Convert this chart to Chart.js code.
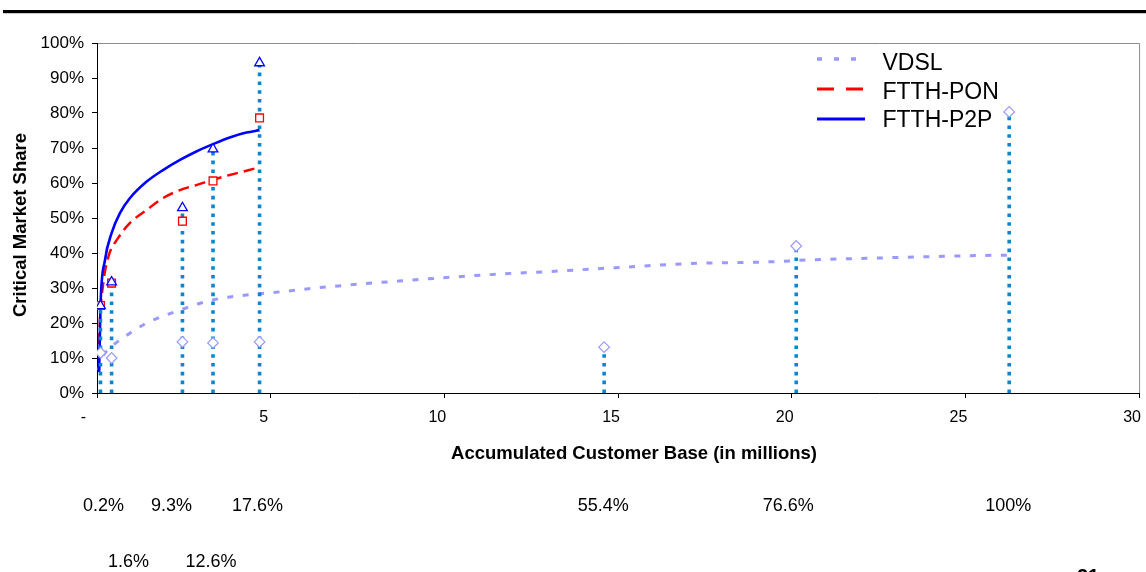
<!DOCTYPE html>
<html><head><meta charset="utf-8">
<script src="https://cdn.jsdelivr.net/npm/chart.js@4.4.0/dist/chart.umd.min.js"></script>
<style>html,body{margin:0;padding:0;background:#fff}canvas{display:block}</style>
</head><body>
<canvas id="c" width="1146" height="572"></canvas>
<script>
// ---- data ----
const customerBase = [0.1, 0.42, 2.46, 3.34, 4.68, 14.6, 20.13, 26.26];      // millions
const baseShareLabels = ['0.2%', '1.6%', '9.3%', '12.6%', '17.6%', '55.4%', '76.6%', '100%'];
const vdslShare = [11.5, 10, 14.6, 14.3, 14.6, 13.1, 42, 80.3];
const ponShare  = [25, 31.4, 49.1, 60.6, 78.6];
const p2pShare  = [24.9, 31.7, 52.9, 69.7, 94.3];

const vdslTrendX = [0.05, 0.1, 0.2, 0.47, 0.95, 1.43, 2.39, 3.34, 4.3, 5.26, 6.5, 8.7, 11.6, 13, 14.93, 16.85, 19.7, 20.2, 22.6, 25, 26.24];
const vdslTrendY = [6.5, 9, 11, 13.7, 17.1, 20, 23.7, 26.6, 28, 28.9, 30.2, 32, 34, 34.7, 35.8, 36.9, 37.6, 37.9, 38.6, 39.2, 39.4];
const ponTrendX = [0.06, 0.08, 0.18, 0.33, 0.61, 0.95, 1.43, 1.9, 2.48, 2.86, 3.34, 3.82, 4.3, 4.68];
const ponTrendY = [14, 20, 31.4, 39, 44.3, 48.6, 52.3, 55.7, 58.3, 59.4, 60.9, 62.3, 63.5, 64.5];
const p2pTrendX = [0.06, 0.08, 0.1, 0.23, 0.42, 0.66, 0.95, 1.43, 1.9, 2.39, 2.86, 3.34, 3.82, 4.3, 4.68];
const p2pTrendY = [6, 15, 24.7, 38, 45.7, 51.4, 55.7, 60.4, 63.7, 66.6, 69, 71.1, 73, 74.4, 75.1];

const xTicks = [0, 5, 10, 15, 20, 25, 30];
const yTicks = [0, 10, 20, 30, 40, 50, 60, 70, 80, 90, 100];
const seriesNames = ['VDSL', 'FTTH-PON', 'FTTH-P2P'];

// ---- derived structures ----
const pts = (xs, ys) => xs.map((x, i) => ({x, y: ys[i]}));
const stemData = [];
customerBase.forEach((x, i) => {
  const top = Math.max(vdslShare[i], ponShare[i] ?? 0, p2pShare[i] ?? 0);
  stemData.push({x, y: 0}, {x, y: top}, {x, y: null});
});

const FONT = "'Liberation Sans', Arial, sans-serif";
const colors = {vdsl: '#9999ff', pon: '#ff0000', p2p: '#0000ff', stem: '#0a86cf'};

// layout of the share labels under the chart (row and pixel nudge)
const shareLayout = {row: [0, 1, 0, 1, 0, 0, 0, 0], nudge: [3, 17, -11, -2, -2, -1, -8, -1]};

const decor = {
  id: 'decor',
  afterDraw(chart) {
    const {ctx, chartArea: a, scales: {x}} = chart;
    ctx.save();
    // top rule
    ctx.fillStyle = '#000'; ctx.fillRect(3, 10, 1143, 3);
    ctx.fillStyle = '#c8c8c8'; ctx.fillRect(3, 13, 1143, 1);
    // plot frame (top / right)
    ctx.strokeStyle = '#8c8c8c'; ctx.lineWidth = 1;
    ctx.beginPath();
    ctx.moveTo(a.left + 1, a.top + 0.5); ctx.lineTo(a.right + 0.5, a.top + 0.5); ctx.lineTo(a.right + 0.5, a.bottom);
    ctx.stroke();
    // axis titles
    ctx.fillStyle = '#000';
    ctx.font = 'bold 18.5px ' + FONT;
    ctx.textAlign = 'center'; ctx.textBaseline = 'alphabetic';
    ctx.fillText('Accumulated Customer Base (in millions)', 634, 458.5);
    ctx.save(); ctx.translate(26, 225); ctx.rotate(-Math.PI / 2);
    ctx.fillText('Critical Market Share', 0, 0); ctx.restore();
    // legend
    const leg = [
      {c: colors.vdsl, dash: [5, 12], w: 3.5},
      {c: colors.pon, dash: [17, 12], w: 3},
      {c: colors.p2p, dash: [], w: 3}
    ];
    leg.forEach((l, i) => {
      const ly = 59 + i * 30;
      ctx.strokeStyle = l.c; ctx.lineWidth = l.w; ctx.setLineDash(l.dash);
      ctx.beginPath(); ctx.moveTo(817, ly); ctx.lineTo(865, ly); ctx.stroke();
      ctx.setLineDash([]);
      ctx.fillStyle = '#000'; ctx.font = '23px ' + FONT; ctx.textAlign = 'left';
      ctx.fillText(seriesNames[i], 882.5, 70 + i * 28.5);
    });
    // share labels under the chart
    ctx.font = '18px ' + FONT; ctx.textAlign = 'center'; ctx.fillStyle = '#000';
    baseShareLabels.forEach((t, i) => {
      const px = x.getPixelForValue(customerBase[i]) + shareLayout.nudge[i];
      ctx.fillText(t, px, shareLayout.row[i] ? 566.5 : 510.5);
    });
    // cropped page number at the bottom edge
    ctx.font = 'bold 20px ' + FONT; ctx.textAlign = 'left'; ctx.textBaseline = 'top';
    ctx.fillText('21', 1077, 567);
    ctx.restore();
  }
};

new Chart(document.getElementById('c'), {
  type: 'line',
  data: {
    datasets: [
      {label: 'VDSL', data: pts(vdslTrendX, vdslTrendY), borderColor: colors.vdsl, borderWidth: 3,
       borderDash: [6, 9.5], pointRadius: 0, cubicInterpolationMode: 'monotone', order: 6},
      {label: 'FTTH-PON', data: pts(ponTrendX, ponTrendY), borderColor: colors.pon, borderWidth: 2.5,
       borderDash: [11, 6], pointRadius: 0, cubicInterpolationMode: 'monotone', order: 5},
      {label: 'FTTH-P2P', data: pts(p2pTrendX, p2pTrendY), borderColor: colors.p2p, borderWidth: 2.6,
       pointRadius: 0, cubicInterpolationMode: 'monotone', order: 4},
      {label: 'stems', data: stemData, borderColor: colors.stem, borderWidth: 3.6, borderDash: [3.6, 5.2],
       pointRadius: 0, spanGaps: false, tension: 0, order: 3},
      {label: 'VDSL pts', data: pts(customerBase, vdslShare), showLine: false, pointStyle: 'rectRot',
       pointRadius: 5.3, pointBorderWidth: 1.2, pointBorderColor: colors.vdsl, pointBackgroundColor: '#fff', order: 2},
      {label: 'PON pts', data: pts(customerBase.slice(0, ponShare.length), ponShare), showLine: false, pointStyle: 'rect',
       pointRadius: 5.5, pointBorderWidth: 1.3, pointBorderColor: colors.pon, pointBackgroundColor: '#fff', order: 1},
      {label: 'P2P pts', data: pts(customerBase.slice(0, p2pShare.length), p2pShare), showLine: false, pointStyle: 'triangle',
       pointRadius: 5.6, pointBorderWidth: 1.3, pointBorderColor: colors.p2p, pointBackgroundColor: '#fff', order: 0}
    ]
  },
  options: {
    responsive: false, animation: false, events: [],
    layout: {padding: {top: 43, right: 5, left: 0, bottom: 0}},
    plugins: {legend: {display: false}, tooltip: {enabled: false}},
    scales: {
      x: {
        type: 'linear', min: 0, max: 30,
        afterBuildTicks: s => { s.ticks = xTicks.map(v => ({value: v})); },
        afterFit: s => { s.height = 179; s.paddingLeft = 0; s.paddingRight = 0; },
        ticks: {callback: v => v === 0 ? '-   ' : String(v), font: {family: FONT, size: 16}, color: '#000',
                padding: 10, labelOffset: -7, maxRotation: 0, autoSkip: false},
        grid: {drawOnChartArea: false, tickLength: 5, color: '#000'},
        border: {color: '#000', width: 1}
      },
      y: {
        min: 0, max: 100,
        afterBuildTicks: s => { s.ticks = yTicks.map(v => ({value: v})); },
        afterFit: s => { s.width = 97; s.paddingTop = 0; s.paddingBottom = 0; },
        ticks: {callback: v => v + '%', font: {family: FONT, size: 17}, color: '#000', padding: 8, autoSkip: false},
        grid: {drawOnChartArea: false, tickLength: 5, color: '#000'},
        border: {color: '#000', width: 1}
      }
    }
  },
  plugins: [decor]
});
</script>
</body></html>
